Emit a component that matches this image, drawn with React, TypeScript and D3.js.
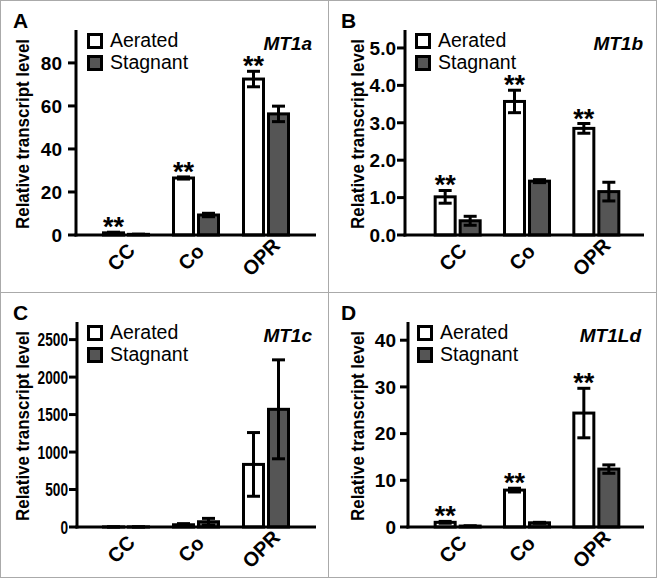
import React from "react";
import * as d3 from "d3";

const categories = ["CC", "Co", "OPR"];
const seriesNames = ["Aerated", "Stagnant"];

// MT1a
const mt1aAerated = [1.0, 26.5, 72.5];
const mt1aAeratedErr = [0.3, 0.5, 3.6];
const mt1aStagnant = [0.3, 9.3, 56.3];
const mt1aStagnantErr = [0.1, 0.8, 3.6];
const mt1aSig = [true, true, true];
const mt1aTicks = [0, 20, 40, 60, 80];

// MT1b
const mt1bAerated = [1.02, 3.57, 2.85];
const mt1bAeratedErr = [0.17, 0.3, 0.13];
const mt1bStagnant = [0.38, 1.44, 1.16];
const mt1bStagnantErr = [0.12, 0.04, 0.25];
const mt1bSig = [true, true, true];
const mt1bTicks = [0, 1, 2, 3, 4, 5];

// MT1c
const mt1cAerated = [1, 30, 835];
const mt1cAeratedErr = [0.5, 15, 425];
const mt1cStagnant = [1.5, 70, 1570];
const mt1cStagnantErr = [1, 45, 660];
const mt1cSig = [false, false, false];
const mt1cTicks = [0, 500, 1000, 1500, 2000, 2500];

// MT1Ld
const mt1ldAerated = [1.0, 7.9, 24.4];
const mt1ldAeratedErr = [0.2, 0.4, 5.3];
const mt1ldStagnant = [0.2, 0.9, 12.4];
const mt1ldStagnantErr = [0.05, 0.1, 0.9];
const mt1ldSig = [true, true, true];
const mt1ldTicks = [0, 10, 20, 30, 40];

const FONT = "Liberation Sans";
const BASE = 235;
const TOP = 30;
const STAG_FILL = "#555555";

type PanelCfg = {
  letter: string;
  gene: string;
  ox: number;
  oy: number;
  axisX: number;
  xRange: [number, number];
  yMax: number;
  ticks: number[];
  tickFmt: (v: number) => string;
  tickGap: number;
  tickDigitW?: number;
  labelX: number;
  titleX: number;
  legendX: number;
  aer: number[];
  aerErr: number[];
  stag: number[];
  stagErr: number[];
  sig: boolean[];
};

const panels: PanelCfg[] = [
  {
    letter: "A", gene: "MT1a", ox: 0, oy: 0, axisX: 76, xRange: [91, 301], yMax: 95.3,
    ticks: mt1aTicks, tickFmt: (v) => String(v), tickGap: 14, labelX: 29, titleX: 312, legendX: 87,
    aer: mt1aAerated, aerErr: mt1aAeratedErr, stag: mt1aStagnant, stagErr: mt1aStagnantErr, sig: mt1aSig,
  },
  {
    letter: "B", gene: "MT1b", ox: 328, oy: 0, axisX: 77, xRange: [95, 303], yMax: 5.48,
    ticks: mt1bTicks, tickFmt: (v) => d3.format(".1f")(v), tickGap: 9, labelX: 36, titleX: 315, legendX: 87,
    aer: mt1bAerated, aerErr: mt1bAeratedErr, stag: mt1bStagnant, stagErr: mt1bStagnantErr, sig: mt1bSig,
  },
  {
    letter: "C", gene: "MT1c", ox: 0, oy: 292, axisX: 77, xRange: [91, 301], yMax: 2735,
    ticks: mt1cTicks, tickFmt: (v) => String(v), tickGap: 9, tickDigitW: 7.6, labelX: 29, titleX: 312, legendX: 87,
    aer: mt1cAerated, aerErr: mt1cAeratedErr, stag: mt1cStagnant, stagErr: mt1cStagnantErr, sig: mt1cSig,
  },
  {
    letter: "D", gene: "MT1Ld", ox: 328, oy: 292, axisX: 80, xRange: [95, 303], yMax: 43.9,
    ticks: mt1ldTicks, tickFmt: (v) => String(v), tickGap: 12, labelX: 36, titleX: 313, legendX: 89,
    aer: mt1ldAerated, aerErr: mt1ldAeratedErr, stag: mt1ldStagnant, stagErr: mt1ldStagnantErr, sig: mt1ldSig,
  },
];

function Panel({ cfg }: { cfg: PanelCfg }) {
  const y = d3.scaleLinear().domain([0, cfg.yMax]).range([BASE, TOP]);
  const x = d3.scaleBand<string>().domain(categories).range(cfg.xRange);
  const xs = d3.scaleBand<string>().domain(seriesNames).range([-24, 24]).paddingInner(0.08);
  const bw = xs.bandwidth();
  const capW = 13;

  const bars: { cat: string; ser: string; v: number; e: number; sig: boolean }[] = [];
  categories.forEach((c, i) => {
    bars.push({ cat: c, ser: "Aerated", v: cfg.aer[i], e: cfg.aerErr[i], sig: cfg.sig[i] });
    bars.push({ cat: c, ser: "Stagnant", v: cfg.stag[i], e: cfg.stagErr[i], sig: false });
  });

  const ox = cfg.ox;
  const oy = cfg.oy;

  return (
    <g>
      <text x={ox + 13} y={oy + 28} fontFamily={FONT} fontSize={21} fontWeight="bold">{cfg.letter}</text>
      <text
        x={0}
        y={0}
        style={{ transform: `translate(${ox + cfg.labelX}px, ${oy + 134}px) rotate(-90deg)`, transformOrigin: "0px 0px", transformBox: "view-box" }}
        textAnchor="middle"
        fontFamily={FONT}
        fontSize={19}
        fontWeight="bold"
        textLength={190}
        lengthAdjust="spacingAndGlyphs"
      >
        Relative transcript level
      </text>
      {bars.map((b, i) => {
        const cx = (x(b.cat) as number) + x.bandwidth() / 2;
        const bx = cx + (xs(b.ser) as number);
        return (
          <rect
            key={"bar" + i}
            x={ox + bx + 1.5}
            y={oy + y(b.v)}
            width={bw - 3}
            height={Math.max(0, y(0) - y(b.v))}
            fill={b.ser === "Aerated" ? "#ffffff" : STAG_FILL}
            stroke="#000"
            strokeWidth={3}
          />
        );
      })}
      {bars.map((b, i) => {
        const cx = (x(b.cat) as number) + x.bandwidth() / 2;
        const mx = ox + cx + (xs(b.ser) as number) + bw / 2;
        const yt = oy + y(b.v + b.e);
        const yb = oy + y(Math.max(0, b.v - b.e));
        return (
          <g key={"err" + i} stroke="#000" strokeWidth={3}>
            <line x1={mx} x2={mx} y1={yt} y2={yb} />
            <line x1={mx - capW / 2} x2={mx + capW / 2} y1={yt} y2={yt} />
            <line x1={mx - capW / 2} x2={mx + capW / 2} y1={yb} y2={yb} />
          </g>
        );
      })}
      {bars.filter((b) => b.sig).map((b, i) => {
        const cx = (x(b.cat) as number) + x.bandwidth() / 2;
        const mx = ox + cx + (xs(b.ser) as number) + bw / 2;
        return (
          <text key={"sig" + i} x={mx} y={oy + y(b.v + b.e) + 4} textAnchor="middle" fontFamily={FONT} fontSize={27} fontWeight="bold">
            **
          </text>
        );
      })}
      <line x1={ox + cfg.axisX} x2={ox + cfg.axisX} y1={oy + TOP} y2={oy + BASE + 1.5} stroke="#000" strokeWidth={3} />
      <line x1={ox + cfg.axisX - 1.5} x2={ox + 316} y1={oy + BASE} y2={oy + BASE} stroke="#000" strokeWidth={3} />
      {cfg.ticks.map((t) => {
        const label = cfg.tickFmt(t);
        return (
          <g key={"t" + t}>
            <line x1={ox + cfg.axisX - 8} x2={ox + cfg.axisX} y1={oy + y(t)} y2={oy + y(t)} stroke="#000" strokeWidth={3} />
            <text
              x={ox + cfg.axisX - cfg.tickGap}
              y={oy + y(t)}
              dy="0.36em"
              textAnchor="end"
              fontFamily={FONT}
              fontSize={19}
              fontWeight="bold"
              {...(cfg.tickDigitW ? { textLength: label.length * cfg.tickDigitW, lengthAdjust: "spacingAndGlyphs" } : {})}
            >
              {label}
            </text>
          </g>
        );
      })}
      {categories.map((c) => {
        const cx = ox + (x(c) as number) + x.bandwidth() / 2;
        const cy = oy + BASE + 27;
        return (
          <text
            key={"c" + c}
            x={0}
            y={0}
            style={{ transform: `translate(${cx}px, ${cy}px) rotate(-45deg)`, transformOrigin: "0px 0px", transformBox: "view-box" }}
            textAnchor="middle"
            fontSize={20}
            fontWeight="bold"
            fontFamily={FONT}
          >
            {c}
          </text>
        );
      })}
      {seriesNames.map((s, i) => (
        <g key={"lg" + s}>
          <rect
            x={ox + cfg.legendX + 1.5}
            y={oy + 34.5 + i * 22}
            width={13}
            height={13}
            fill={s === "Aerated" ? "#fff" : STAG_FILL}
            stroke="#000"
            strokeWidth={3}
          />
          <text x={ox + cfg.legendX + 23} y={oy + 47 + i * 22} fontFamily={FONT} fontSize={19.5}>
            {s}
          </text>
        </g>
      ))}
      <text x={ox + cfg.titleX} y={oy + 50} textAnchor="end" fontFamily={FONT} fontSize={19} fontWeight="bold" fontStyle="italic">
        {cfg.gene}
      </text>
    </g>
  );
}

export default function App() {
  return (
    <svg width={657} height={578} style={{ position: "absolute", left: 0, top: 0 }}>
      <rect x={0} y={0} width={657} height={578} fill="#fff" />
      {panels.map((p) => (
        <Panel key={p.letter} cfg={p} />
      ))}
      <g stroke="#aaaaaa" strokeWidth={1} fill="none">
        <rect x={0.5} y={0.5} width={656} height={577} />
        <line x1={328.5} x2={328.5} y1={0} y2={578} />
        <line x1={0} x2={657} y1={292.5} y2={292.5} />
      </g>
    </svg>
  );
}
